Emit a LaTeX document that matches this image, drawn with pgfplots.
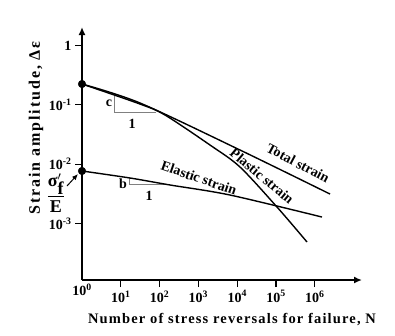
\documentclass[border=0pt]{standalone}
\usepackage{fontspec}
\setmainfont{Liberation Serif}
\newfontfamily\spacedx{Liberation Serif}[LetterSpace=8]
\newfontfamily\spacedy{Liberation Serif}[LetterSpace=12]
\usepackage{pgfplots}
\pgfplotsset{compat=1.18}
\usetikzlibrary{arrows.meta}

\begin{document}
\begin{tikzpicture}
\begin{scope}[x=1pt,y=-1pt]
  \useasboundingbox (0,0) rectangle (395,335);
\end{scope}

\begin{axis}[
  at={(82pt,-280pt)}, anchor=south west,
  scale only axis, width=280pt, height=253pt,
  xmode=log, ymode=log,
  xmin=1, xmax=1.645e7, ymin=1.124e-4, ymax=2.04,
  axis lines=left,
  axis line style={line width=1.6pt, -{Latex[length=8pt,width=7pt]}},
  tick align=outside, major tick length=7pt,
  tick style={line width=1.1pt, black},
  xminorticks=false, yminorticks=false,
  xtick={10,100,1000,10000,100000,1000000},
  xticklabels={10\textsuperscript{1},10\textsuperscript{2},10\textsuperscript{3},
               10\textsuperscript{4},10\textsuperscript{5},10\textsuperscript{6}},
  extra x ticks={1},
  extra x tick labels={10\textsuperscript{0}},
  extra x tick style={major tick length=0pt},
  ytick={0.001,0.01,0.1,1},
  yticklabels={10\textsuperscript{-3},10\textsuperscript{-2},10\textsuperscript{-1},1},
  ticklabel style={font=\fontsize{14}{14}\selectfont\bfseries},
  clip=false,
]
  % slope triangles
  \addplot[gray, line width=1pt] coordinates {(6.88,0.152) (6.88,0.0728) (80.8,0.0728)};
  \addplot[gray, line width=1pt] coordinates {(17.26,0.00586) (17.26,0.00447) (185.4,0.00447)};

  % total strain
  \addplot[black, line width=1.4pt, smooth, tension=0.5] coordinates {
    (1,0.2239) (31.3,0.1072) (11803,0.01734) (2.466e6,0.003148)};
  % plastic strain
  \addplot[black, line width=1.4pt, smooth, tension=0.5] coordinates {
    (1,0.2239) (31.3,0.1030) (137.7,0.0673) (1991,0.02104)
    (11803,0.00897) (1.062e5,0.001901) (6.295e5,0.000490)};
  % elastic strain
  \addplot[black, line width=1.4pt, smooth, tension=0.5] coordinates {
    (1,0.00769) (17.26,0.00586) (185.4,0.00447) (6516,0.00303) (1.535e6,0.00129)};

  % intercepts at N = 1
  \addplot[only marks, mark=*, mark size=3.8pt, black] coordinates {(1,0.2239) (1,0.00769)};
\end{axis}

\begin{scope}[x=1pt,y=-1pt, font=\fontsize{14}{14}\selectfont\bfseries]
  \node[rotate=-28] at (298,163) {Total strain};
  \node[rotate=-40] at (262,176) {Plastic strain};
  \node[rotate=-19] at (199,178) {Elastic strain};
  \node at (109,103) {c};
  \node at (132,124) {1};
  \node at (123,184) {b};
  \node at (149,196) {1};
  \node[font=\fontsize{18}{18}\selectfont\bfseries] at (56,193)
    {$\displaystyle\frac{\textbf{σ}^{\prime}_{\textbf{f}}}{\textbf{E}}$};
  \draw[-{Latex[length=6pt,width=5pt]}, line width=1pt] (67,186) -- (78,174);
  \node at (232,320) {\fontsize{14.5}{14.5}\selectfont\spacedx\bfseries Number of stress reversals for failure, N};
  \node[rotate=90] at (36,128)
    {\fontsize{16}{16}\selectfont\spacedy\bfseries Strain amplitude, Δε};
\end{scope}
\end{tikzpicture}
\end{document}
